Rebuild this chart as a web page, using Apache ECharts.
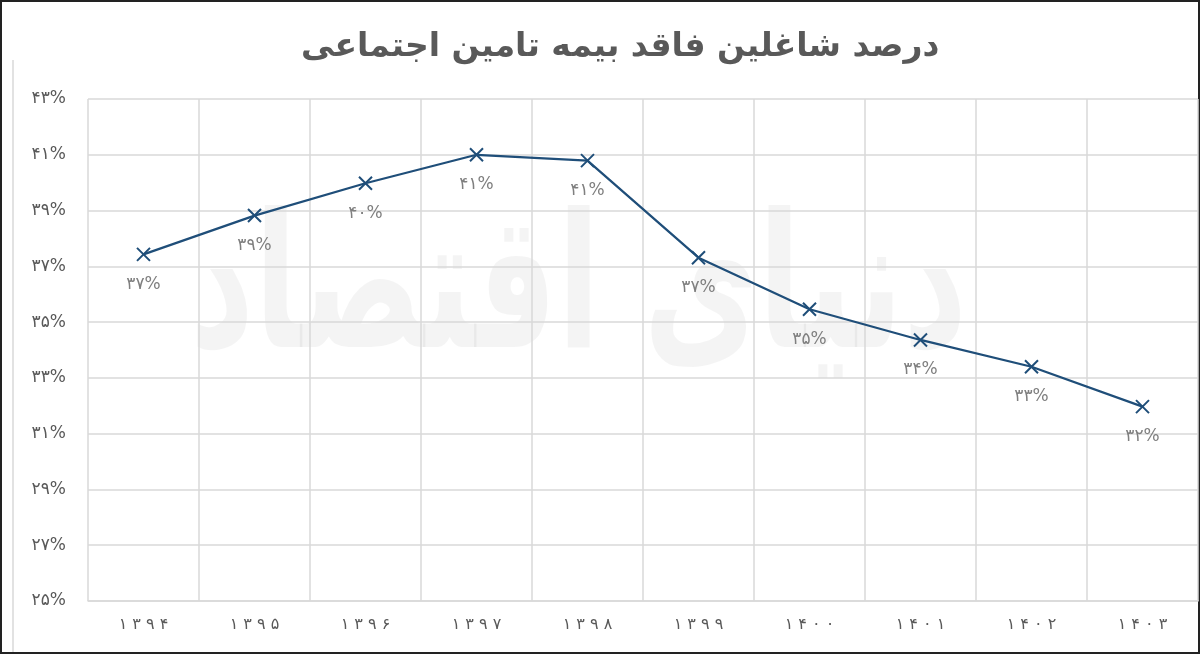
<!DOCTYPE html>
<html>
<head>
<meta charset="utf-8">
<script src="https://cdn.jsdelivr.net/npm/echarts@6/dist/echarts.min.js"></script>
<style>
  html, body { margin: 0; padding: 0; background: #fff; }
  #chart { width: 1200px; height: 655px; }
</style>
</head>
<body>
<div id="chart"></div>
<script>
const titleText = 'درصد شاغلین فاقد بیمه تامین اجتماعی'
const years = ['1394', '1395', '1396', '1397', '1398', '1399', '1400', '1401', '1402', '1403']
const shareNoInsurance = [37.43, 38.82, 39.98, 41.0, 40.79, 37.31, 35.46, 34.36, 33.40, 31.97]
const yMin = 25
const yMax = 43
const yStep = 2

// ارقام فارسی
const faDigits = '۰۱۲۳۴۵۶۷۸۹'
const toFa = s => String(s).replace(/[0-9]/g, d => faDigits[+d])

const font = '"DejaVu Sans", "Noto Sans", sans-serif'
const chart = echarts.init(document.getElementById('chart'))

chart.setOption({
  backgroundColor: '#fff',
  animation: false,
  title: {
    text: titleText,
    left: 296,
    top: 26,
    textStyle: { color: '#595959', fontSize: 33, fontWeight: 'bold', fontFamily: font }
  },
  graphic: [
    {
      type: 'text',
      z: -10,
      x: 190,
      y: 205,
      scaleY: 1.5,
      style: {
        text: 'دنیای اقتصاد',
        fill: 'rgba(0,0,0,0.045)',
        font: 'bold 125px "DejaVu Sans", sans-serif'
      }
    },
    {
      type: 'line',
      shape: { x1: 13, y1: 60, x2: 13, y2: 653 },
      style: { stroke: '#d9d9d9', lineWidth: 1.5 }
    },
    {
      type: 'rect',
      shape: { x: 1, y: 1, width: 1198, height: 652 },
      style: { fill: 'none', stroke: '#222', lineWidth: 2 }
    }
  ],
  grid: { left: 88, right: 2, top: 99, bottom: 54 },
  xAxis: {
    type: 'category',
    data: years,
    boundaryGap: true,
    axisLine: { lineStyle: { color: '#d9d9d9', width: 1.5 } },
    axisTick: { show: false },
    splitLine: { show: true, lineStyle: { color: '#d9d9d9', width: 1.5 } },
    axisLabel: {
      color: '#595959',
      fontSize: 16,
      fontFamily: font,
      margin: 16,
      formatter: v => toFa(v).split('').join(' ')
    }
  },
  yAxis: {
    type: 'value',
    min: yMin,
    max: yMax,
    interval: yStep,
    axisLine: { show: false },
    axisTick: { show: false },
    splitLine: { lineStyle: { color: '#d9d9d9', width: 1.5 } },
    axisLabel: {
      color: '#595959',
      fontSize: 17,
      fontFamily: font,
      margin: 22,
      formatter: v => toFa(v) + '%'
    }
  },
  series: [{
    type: 'line',
    data: shareNoInsurance,
    symbol: 'path://M0,0 L10,10 M10,0 L0,10',
    symbolSize: 13,
    showAllSymbol: true,
    lineStyle: { color: '#1f4e79', width: 2.25 },
    itemStyle: { color: 'rgba(0,0,0,0)', borderColor: '#1f4e79', borderWidth: 2 },
    label: {
      show: true,
      position: 'bottom',
      distance: 14,
      color: '#7f7f7f',
      fontSize: 17,
      fontFamily: font,
      formatter: p => toFa(Math.round(p.value)) + '%'
    }
  }]
})
</script>
</body>
</html>
